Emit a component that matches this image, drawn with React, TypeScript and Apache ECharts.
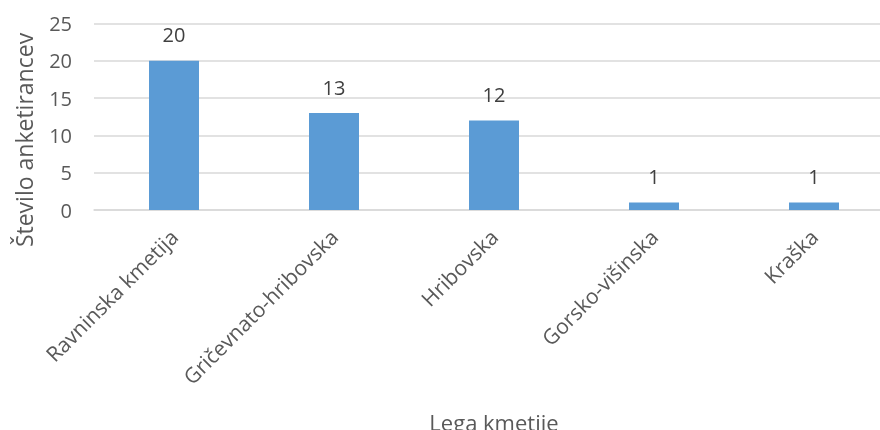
import React, { useEffect, useRef } from "react";
import * as echarts from "echarts";

const categories = ["Ravninska kmetija", "Gričevnato-hribovska", "Hribovska", "Gorsko-višinska", "Kraška"];
const values = [20, 13, 12, 1, 1];
const yAxisName = "Število anketirancev";
const xAxisName = "Lega kmetije";

const FONT = "'Open Sans', sans-serif";
const TEXT = "#595959";

export default function App() {
  const ref = useRef<HTMLDivElement>(null);
  useEffect(() => {
    if (!ref.current) return;
    const chart = echarts.init(ref.current, undefined, { renderer: "svg" });
    chart.setOption({
      animation: false,
      textStyle: { fontFamily: FONT },
      grid: {
        left: 94,
        top: 23.5,
        width: 800,
        height: 186.5,
        containLabel: false,
        outerBoundsMode: "none",
      },
      graphic: [
        {
          type: "text",
          x: 24,
          y: 140,
          rotation: Math.PI / 2,
          style: {
            text: yAxisName,
            fill: TEXT,
            fontSize: 23,
            fontFamily: FONT,
            align: "center",
            verticalAlign: "middle",
          },
        },
      ],
      xAxis: {
        type: "category",
        data: categories,
        name: xAxisName,
        nameLocation: "middle",
        nameGap: 201,
        nameTextStyle: { color: TEXT, fontSize: 22, fontFamily: FONT },
        axisLine: { show: true, lineStyle: { color: "#d9d9d9", width: 1.5 } },
        axisTick: { show: false },
        axisLabel: { rotate: 45, color: TEXT, fontSize: 21, fontFamily: FONT, margin: 23, interval: 0 },
      },
      yAxis: {
        type: "value",
        min: 0,
        max: 25,
        interval: 5,
        axisLine: { show: false },
        axisTick: { show: false },
        axisLabel: { color: TEXT, fontSize: 20, fontFamily: FONT, margin: 22 },
        splitLine: { lineStyle: { color: "#d9d9d9", width: 1.5 } },
      },
      series: [
        {
          type: "bar",
          data: values,
          barWidth: 50,
          itemStyle: { color: "#5B9BD5" },
          label: { show: true, position: "top", distance: 16, color: "#404040", fontSize: 20, fontFamily: FONT },
        },
      ],
    });
    return () => chart.dispose();
  }, []);
  return <div ref={ref} style={{ position: "fixed", left: 0, top: 0, width: 900, height: 430 }} />;
}
